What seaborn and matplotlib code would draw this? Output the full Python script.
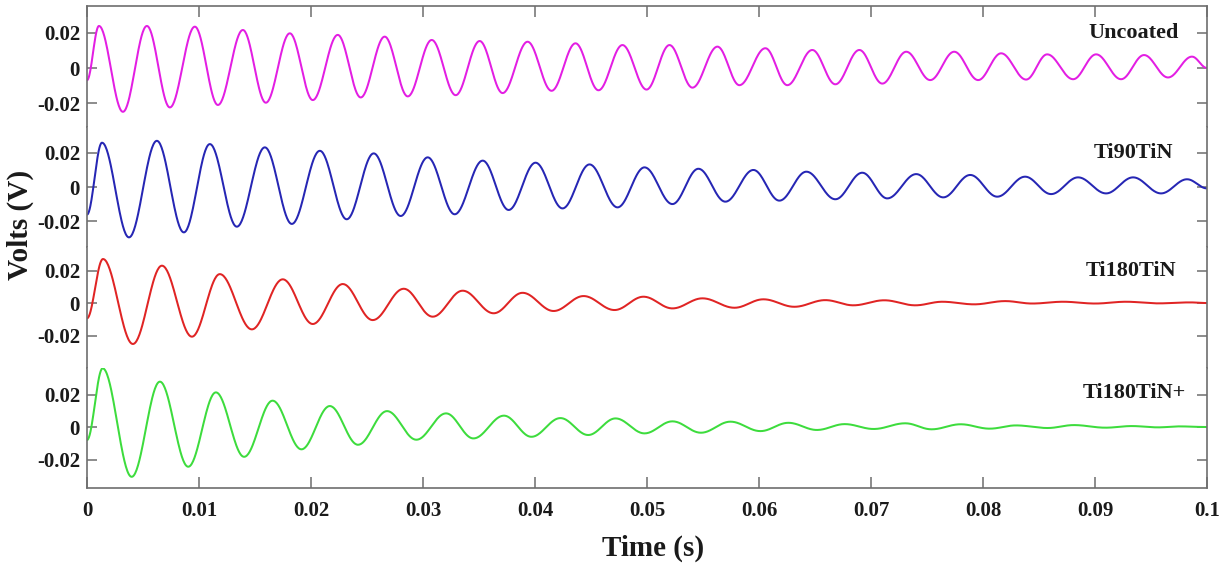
import numpy as np
import pandas as pd
import matplotlib
matplotlib.use("Agg")
import matplotlib.pyplot as plt
import seaborn as sns

# ─── Data (extrema, time in s, volts in V) ────────────────────────────────
UNC_T = [0.0, 0.00107, 0.00321, 0.00535, 0.00740, 0.00963, 0.01169, 0.01392, 0.01597,
         0.01811, 0.02016, 0.02239, 0.02444, 0.02658, 0.02864, 0.03078, 0.03292,
         0.03506, 0.03711, 0.03934, 0.04148, 0.04362, 0.04567, 0.04781, 0.04996,
         0.05201, 0.05406, 0.05629, 0.05825, 0.06057, 0.06253, 0.06476, 0.06682,
         0.06896, 0.07101, 0.07315, 0.07529, 0.07743, 0.07957, 0.08162, 0.08385,
         0.08573, 0.08805, 0.09010, 0.09233, 0.09438, 0.09652, 0.09866, 0.1]
UNC_V = [-0.007, 0.024, -0.025, 0.024, -0.0225, 0.0236, -0.0211, 0.0217, -0.0198,
         0.0198, -0.0183, 0.0189, -0.0168, 0.0179, -0.0162, 0.016, -0.0155,
         0.0154, -0.0143, 0.015, -0.013, 0.0141, -0.0127, 0.0131, -0.0123,
         0.0131, -0.0112, 0.0122, -0.0098, 0.0113, -0.0098, 0.0103, -0.0093,
         0.0103, -0.0089, 0.0093, -0.0069, 0.0093, -0.0069, 0.0084, -0.0066,
         0.0078, -0.0064, 0.0078, -0.0064, 0.0074, -0.0054, 0.0065, 0.0]

T90_T = [0.0, 0.00134, 0.00375, 0.00624, 0.00865, 0.01097, 0.01338, 0.01588, 0.01829,
         0.02079, 0.02319, 0.02560, 0.02801, 0.03042, 0.03283, 0.03533, 0.03765,
         0.04005, 0.04246, 0.04487, 0.04737, 0.04978, 0.05227, 0.05459, 0.05700,
         0.05950, 0.06182, 0.06423, 0.06682, 0.06922, 0.07145, 0.07404, 0.07645,
         0.07886, 0.08127, 0.08376, 0.08608, 0.08849, 0.09099, 0.09340, 0.09590,
         0.09822, 0.1]
T90_V = [-0.016, 0.0257, -0.0292, 0.0268, -0.0263, 0.0249, -0.023, 0.023, -0.0214,
         0.021, -0.0187, 0.0195, -0.0168, 0.0172, -0.0158, 0.0153, -0.0133,
         0.0141, -0.0124, 0.0131, -0.0118, 0.0114, -0.0099, 0.0106, -0.0085,
         0.0099, -0.0079, 0.0089, -0.0071, 0.0083, -0.0066, 0.0075, -0.006,
         0.007, -0.0056, 0.006, -0.0041, 0.0056, -0.0037, 0.0056, -0.0037,
         0.0045, -0.0008]

T180_T = [0.0, 0.00143, 0.00410, 0.00669, 0.00937, 0.01186, 0.01472, 0.01748, 0.02016,
          0.02284, 0.02551, 0.02828, 0.03087, 0.03354, 0.03631, 0.03889, 0.04166,
          0.04434, 0.04710, 0.04969, 0.05227, 0.05495, 0.05781, 0.06039, 0.06316,
          0.06592, 0.06842, 0.07119, 0.07395, 0.07636, 0.07922, 0.08198, 0.08439,
          0.08715, 0.09001, 0.09277, 0.09563, 0.09848, 0.1]
T180_V = [-0.0094, 0.0271, -0.0252, 0.023, -0.0207, 0.0178, -0.0162, 0.0146, -0.0129,
          0.0117, -0.0105, 0.0088, -0.0084, 0.0076, -0.0063, 0.0063, -0.0049,
          0.0043, -0.0043, 0.0039, -0.0033, 0.0029, -0.0029, 0.0023, -0.0023,
          0.0018, -0.0014, 0.0017, -0.0014, 0.0008, -0.0008, 0.0012, -0.0003,
          0.0008, -0.0003, 0.0008, -0.0002, 0.0004, 0.0]

T180P_T = [0.0, 0.00140, 0.00399, 0.00651, 0.00904, 0.01151, 0.01403, 0.01657, 0.01915,
           0.02168, 0.02420, 0.02679, 0.02941, 0.03206, 0.03450, 0.03723, 0.03968,
           0.04227, 0.04475, 0.04719, 0.04978, 0.05227, 0.05482, 0.05745, 0.06013,
           0.06262, 0.06517, 0.06765, 0.07024, 0.07306, 0.07541, 0.07800, 0.08059,
           0.08294, 0.08576, 0.08812, 0.09094, 0.09328, 0.09563, 0.09750, 0.1]
T180P_V = [-0.008, 0.0361, -0.0306, 0.0279, -0.0244, 0.0213, -0.0183, 0.0162, -0.0137,
           0.0129, -0.0109, 0.0098, -0.0078, 0.0084, -0.007, 0.007, -0.006,
           0.0055, -0.0049, 0.0053, -0.0039, 0.0035, -0.0035, 0.0033, -0.0025,
           0.0026, -0.0018, 0.0018, -0.0012, 0.0023, -0.0014, 0.0017, -0.001,
           0.001, -0.0006, 0.0012, -0.0004, 0.0006, -0.0002, 0.0004, 0.0]

SERIES = ["Uncoated", "Ti90TiN", "Ti180TiN", "Ti180TiN+"]
TIMES = [UNC_T, T90_T, T180_T, T180P_T]
VOLTS = [UNC_V, T90_V, T180_V, T180P_V]

YTICKS = [-0.02, 0.0, 0.02]
YTICK_LABELS = ["-0.02", "0", "0.02"]
XTICKS = [0.0, 0.01, 0.02, 0.03, 0.04, 0.05, 0.06, 0.07, 0.08, 0.09, 0.1]
XTICK_LABELS = ["0", "0.01", "0.02", "0.03", "0.04", "0.05", "0.06", "0.07",
                "0.08", "0.09", "0.1"]

# ─── Style ────────────────────────────────────────────────────────────────
COLORS = ["#e31ee3", "#2626b4", "#e02424", "#3ddc3d"]
YLIMS = [(-0.0334, 0.0354), (-0.0348, 0.0351), (-0.0397, 0.0345), (-0.0375, 0.0366)]
LABEL_POS = [(0.0975, 0.0200), (0.0970, 0.0197), (0.0973, 0.0197), (0.0981, 0.0209)]
FRAME = "#6e6e6e"
INK = "#1a1a1a"

sns.set_style("white")
plt.rcParams.update({
    "font.family": ["Liberation Serif", "DejaVu Serif"],
    "font.weight": "bold",
})


def swing_curve(ts, vs, n=40):
    # join consecutive extrema with half-cosine swings
    xs, ys = [], []
    for i in range(len(ts) - 1):
        s = np.linspace(0, 1, n, endpoint=False)
        xs.append(ts[i] + (ts[i + 1] - ts[i]) * s)
        ys.append(vs[i] + (vs[i + 1] - vs[i]) * (1 - np.cos(np.pi * s)) / 2)
    xs.append([ts[-1]])
    ys.append([vs[-1]])
    return pd.DataFrame({"t": np.concatenate(xs), "v": np.concatenate(ys)})


fig = plt.figure(figsize=(12.25, 5.67), dpi=100)
axes = fig.subplots(4, 1, sharex=True, gridspec_kw=dict(hspace=0))
fig.subplots_adjust(left=0.0710, right=0.9853, top=0.9894, bottom=0.1393)

for i, ax in enumerate(axes):
    df = swing_curve(TIMES[i], VOLTS[i])
    sns.lineplot(data=df, x="t", y="v", ax=ax, color=COLORS[i], lw=1.45,
                 estimator=None, sort=False)
    ax.set_xlabel("")
    ax.set_ylabel("")
    ax.set_xlim(0, 0.1)
    ax.set_ylim(*YLIMS[i])
    ax.set_yticks(YTICKS)
    ax.set_yticklabels(YTICK_LABELS)
    ax.tick_params(axis="y", direction="in", left=True, right=True, length=7.5,
                   width=1.1, color=FRAME, labelcolor=INK, labelsize=15, pad=5)
    for sp in ax.spines.values():
        sp.set_edgecolor(FRAME)
        sp.set_linewidth(1.2)
    if i > 0:
        ax.spines["top"].set_visible(False)
    if i < 3:
        ax.spines["bottom"].set_visible(False)
    ax.text(LABEL_POS[i][0], LABEL_POS[i][1], SERIES[i], ha="right", va="center",
            fontsize=16, fontweight="bold", color=INK)

axes[-1].set_xticks(XTICKS)
axes[-1].set_xticklabels(XTICK_LABELS)
axes[0].tick_params(axis="x", bottom=False, top=True, direction="in", length=8,
                    width=1.1, color=FRAME, labelbottom=False)
for ax in axes[1:3]:
    ax.tick_params(axis="x", bottom=False, top=False, labelbottom=False)
axes[-1].tick_params(axis="x", bottom=True, top=False, direction="in", length=8,
                     width=1.1, color=FRAME, labelcolor=INK, labelsize=15, pad=9)

fig.text(0.0163, 1 - 225 / 567, "Volts (V)", rotation=90, ha="center", va="center",
         fontsize=21, fontweight="bold", color=INK)
fig.text(0.533, 1 - 548 / 567, "Time (s)", ha="center", va="center",
         fontsize=21, fontweight="bold", color=INK)

fig.savefig("out.png", dpi=100, facecolor="white")
plt.close(fig)
